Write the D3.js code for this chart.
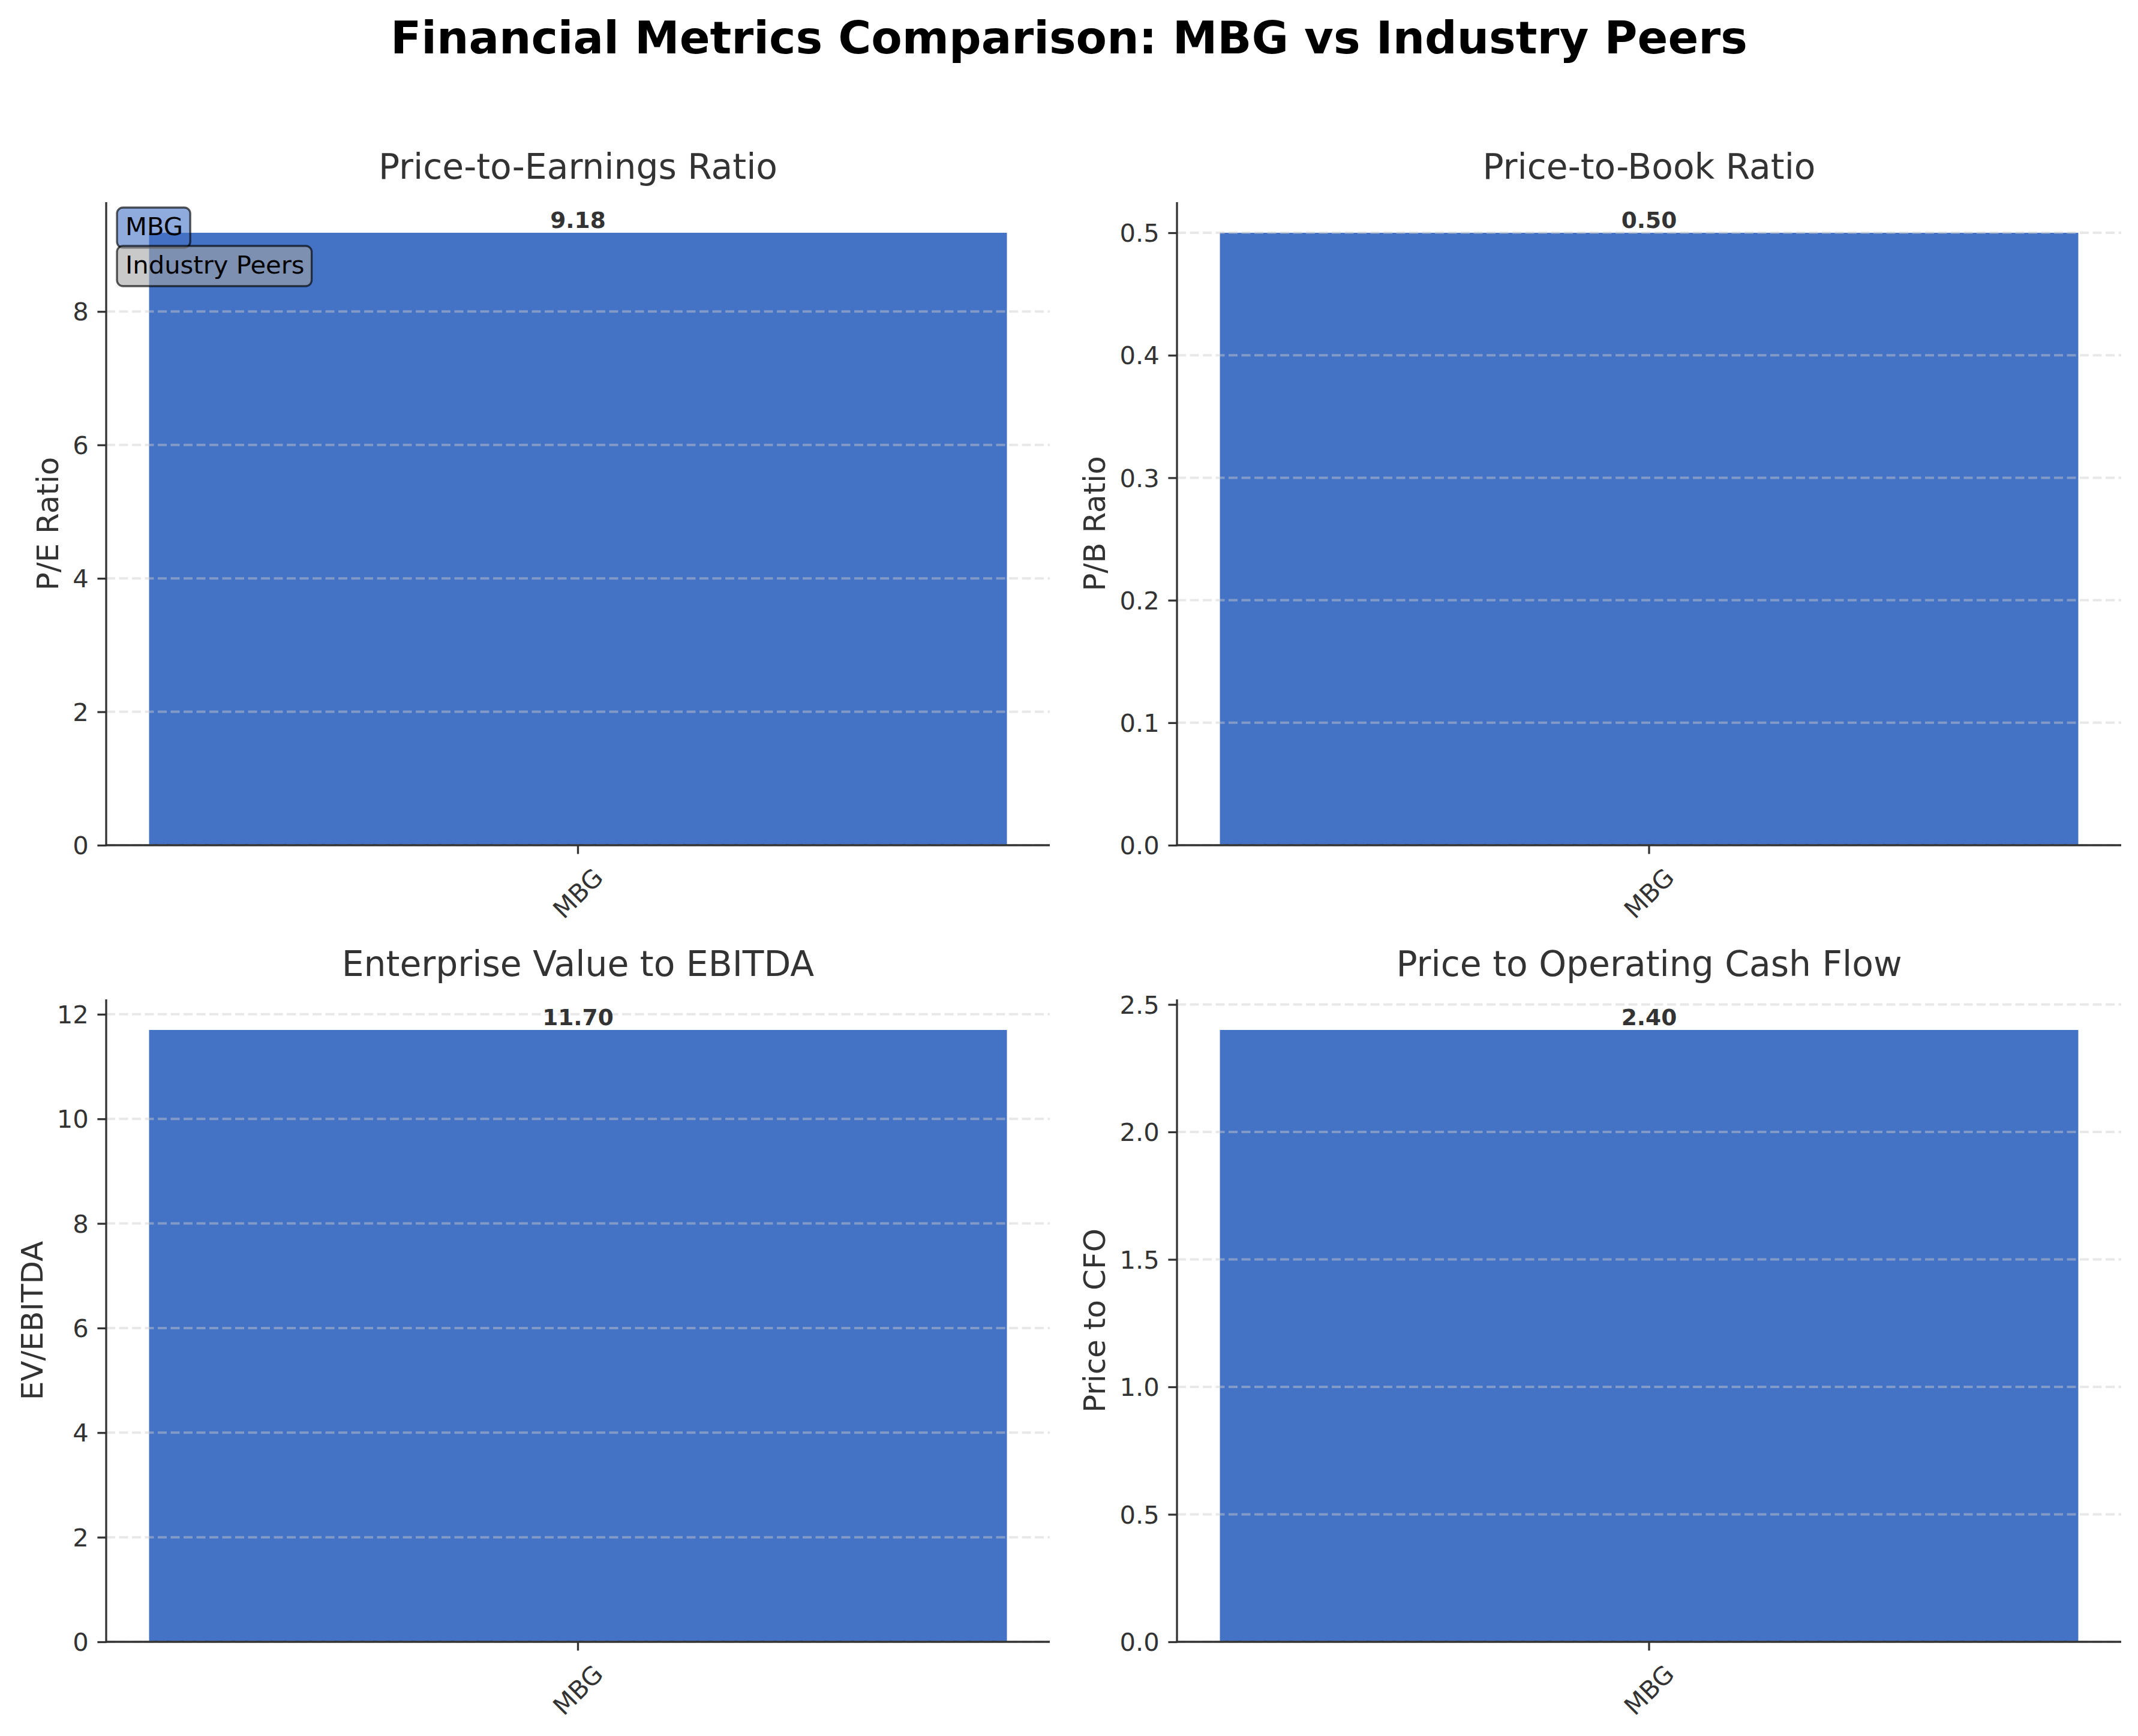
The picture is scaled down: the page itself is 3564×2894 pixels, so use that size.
<!DOCTYPE html>
<html>
<head>
<meta charset="utf-8">
<script src="https://cdn.jsdelivr.net/npm/d3@7/dist/d3.min.js"></script>
<style>
  html, body { margin: 0; padding: 0; background: #ffffff; }
  svg { display: block; font-family: "DejaVu Sans", sans-serif; }
</style>
</head>
<body>
<script>
// ---------------- data ----------------
const figureTitle = "Financial Metrics Comparison: MBG vs Industry Peers";
const metricTitles = ["Price-to-Earnings Ratio", "Price-to-Book Ratio", "Enterprise Value to EBITDA", "Price to Operating Cash Flow"];
const yLabels = ["P/E Ratio", "P/B Ratio", "EV/EBITDA", "Price to CFO"];
const companies = ["MBG"];
const mbgValues = [9.18, 0.50, 11.70, 2.40];
const peerValues = [];            // no peer bars in the chart
const yTickValues = [
  [0, 2, 4, 6, 8],
  [0.0, 0.1, 0.2, 0.3, 0.4, 0.5],
  [0, 2, 4, 6, 8, 10, 12],
  [0.0, 0.5, 1.0, 1.5, 2.0, 2.5]
];
const yTickFormats = ["d", ".1f", "d", ".1f"];
const legendLabels = ["MBG", "Industry Peers"];

// ---------------- layout ----------------
const W = 3564, H = 2894;
const colX = [[177, 1750], [1962, 3536]];
const rowY = [[337, 1409], [1666, 2737]];
const barColor = "#4472c4";
const textColor = "#333333";
const tickFs = 41.7, titleFs = 58.3, labelFs = 50, valueFs = 37.5, supFs = 75;

const svg = d3.select("body").append("svg")
  .attr("width", W).attr("height", H)
  .attr("viewBox", `0 0 ${W} ${H}`);

svg.append("rect").attr("width", W).attr("height", H).attr("fill", "#fff");

svg.append("text")
  .attr("x", W / 2).attr("y", 89)
  .attr("text-anchor", "middle")
  .attr("font-size", supFs).attr("font-weight", "bold")
  .attr("fill", "#000")
  .text(figureTitle);

metricTitles.forEach((title, i) => {
  const [x0, x1] = colX[i % 2];
  const [y0, y1] = rowY[Math.floor(i / 2)];
  const g = svg.append("g");

  // bar width 0.8 of the band unit, 5% axis margins on each side
  const xOuter = d3.scaleBand().domain(companies).range([x0, x1])
    .paddingInner(0).paddingOuter(0.05);
  const barW = xOuter.bandwidth() * 0.8 / 0.8;
  const x = d => xOuter(d);
  const y = d3.scaleLinear().domain([0, mbgValues[i] * 1.05]).range([y1, y0]);

  // bar
  g.selectAll("rect.bar").data(companies).enter().append("rect")
    .attr("class", "bar")
    .attr("x", d => x(d))
    .attr("width", barW)
    .attr("y", y(mbgValues[i]))
    .attr("height", y(0) - y(mbgValues[i]))
    .attr("fill", barColor);

  // grid (above bar, like matplotlib default)
  g.selectAll("line.grid").data(yTickValues[i]).enter().append("line")
    .attr("x1", x0).attr("x2", x1)
    .attr("y1", d => y(d)).attr("y2", d => y(d))
    .attr("stroke", "#cccccc").attr("stroke-opacity", 0.45)
    .attr("stroke-width", 4).attr("stroke-dasharray", "15,6.5");

  // y axis
  const yAxis = d3.axisLeft(y).tickValues(yTickValues[i])
    .tickFormat(d3.format(yTickFormats[i]))
    .tickSize(14.6).tickPadding(14.6);
  const ya = g.append("g").attr("transform", `translate(${x0},0)`).call(yAxis);
  ya.select(".domain").remove();
  ya.selectAll(".tick line").attr("stroke", textColor).attr("stroke-width", 3.3);
  ya.selectAll(".tick text").attr("font-size", tickFs).attr("fill", textColor)
    .attr("font-family", "DejaVu Sans").attr("dy", "0.35em");

  // x axis
  const xAxis = d3.axisBottom(xOuter).tickSize(14.6).tickPadding(0);
  const xa = g.append("g").attr("transform", `translate(0,${y1})`).call(xAxis);
  xa.select(".domain").remove();
  xa.selectAll(".tick line").attr("stroke", textColor).attr("stroke-width", 3.3);
  xa.selectAll(".tick text").each(function () {
    const t = d3.select(this);
    t.attr("font-size", tickFs).attr("fill", textColor).attr("font-family", "DejaVu Sans")
      .attr("dy", null).attr("y", null);
    const w = this.getComputedTextLength();
    const h = tickFs * 1.164;
    const half = (w + h) * Math.SQRT1_2 / 2;
    const cy = 14.6 + 14.6 + half;
    t.attr("text-anchor", "middle")
      .attr("transform", `translate(0,${cy}) rotate(-45)`)
      .attr("dy", "0.35em");
  });

  // spines
  g.append("line").attr("x1", x0).attr("x2", x0).attr("y1", y0).attr("y2", y1 + 1.6)
    .attr("stroke", textColor).attr("stroke-width", 3.3);
  g.append("line").attr("x1", x0 - 1.6).attr("x2", x1).attr("y1", y1).attr("y2", y1)
    .attr("stroke", textColor).attr("stroke-width", 3.3);

  // value label
  g.selectAll("text.val").data(companies).enter().append("text")
    .attr("class", "val")
    .attr("x", d => x(d) + barW / 2)
    .attr("y", y(mbgValues[i]) - 8)
    .attr("text-anchor", "middle")
    .attr("font-size", valueFs).attr("font-weight", "bold").attr("fill", textColor)
    .text(mbgValues[i].toFixed(2));

  // subplot title
  g.append("text")
    .attr("x", (x0 + x1) / 2).attr("y", y0 - 39)
    .attr("text-anchor", "middle")
    .attr("font-size", titleFs).attr("fill", textColor)
    .text(title);

  // y label
  let minLeft = Infinity;
  ya.selectAll(".tick text").each(function () {
    const w = this.getComputedTextLength();
    minLeft = Math.min(minLeft, x0 - 29.2 - w);
  });
  const lx = minLeft - 24;
  g.append("text")
    .attr("transform", `translate(${lx},${(y0 + y1) / 2}) rotate(-90)`)
    .attr("text-anchor", "middle")
    .attr("font-size", labelFs).attr("fill", textColor)
    .text(yLabels[i]);

  // legend (first panel only)
  if (i === 0) {
    const legendFills = [barColor, "#a5a5a5"];
    const boxTops = [y0 + 9, y0 + 73];
    legendLabels.forEach((lab, k) => {
      const lg = g.append("g");
      const txt = lg.append("text")
        .attr("x", x0 + 32).attr("y", boxTops[k] + 46)
        .attr("font-size", tickFs).attr("fill", "#000")
        .text(lab);
      const tw = txt.node().getComputedTextLength();
      lg.insert("rect", "text")
        .attr("x", x0 + 18).attr("y", boxTops[k])
        .attr("width", tw + 26).attr("height", 67)
        .attr("rx", 10).attr("ry", 10)
        .attr("fill", legendFills[k]).attr("fill-opacity", 0.6)
        .attr("stroke", "#000").attr("stroke-opacity", 0.65)
        .attr("stroke-width", 3.3);
    });
  }
});
</script>
</body>
</html>
